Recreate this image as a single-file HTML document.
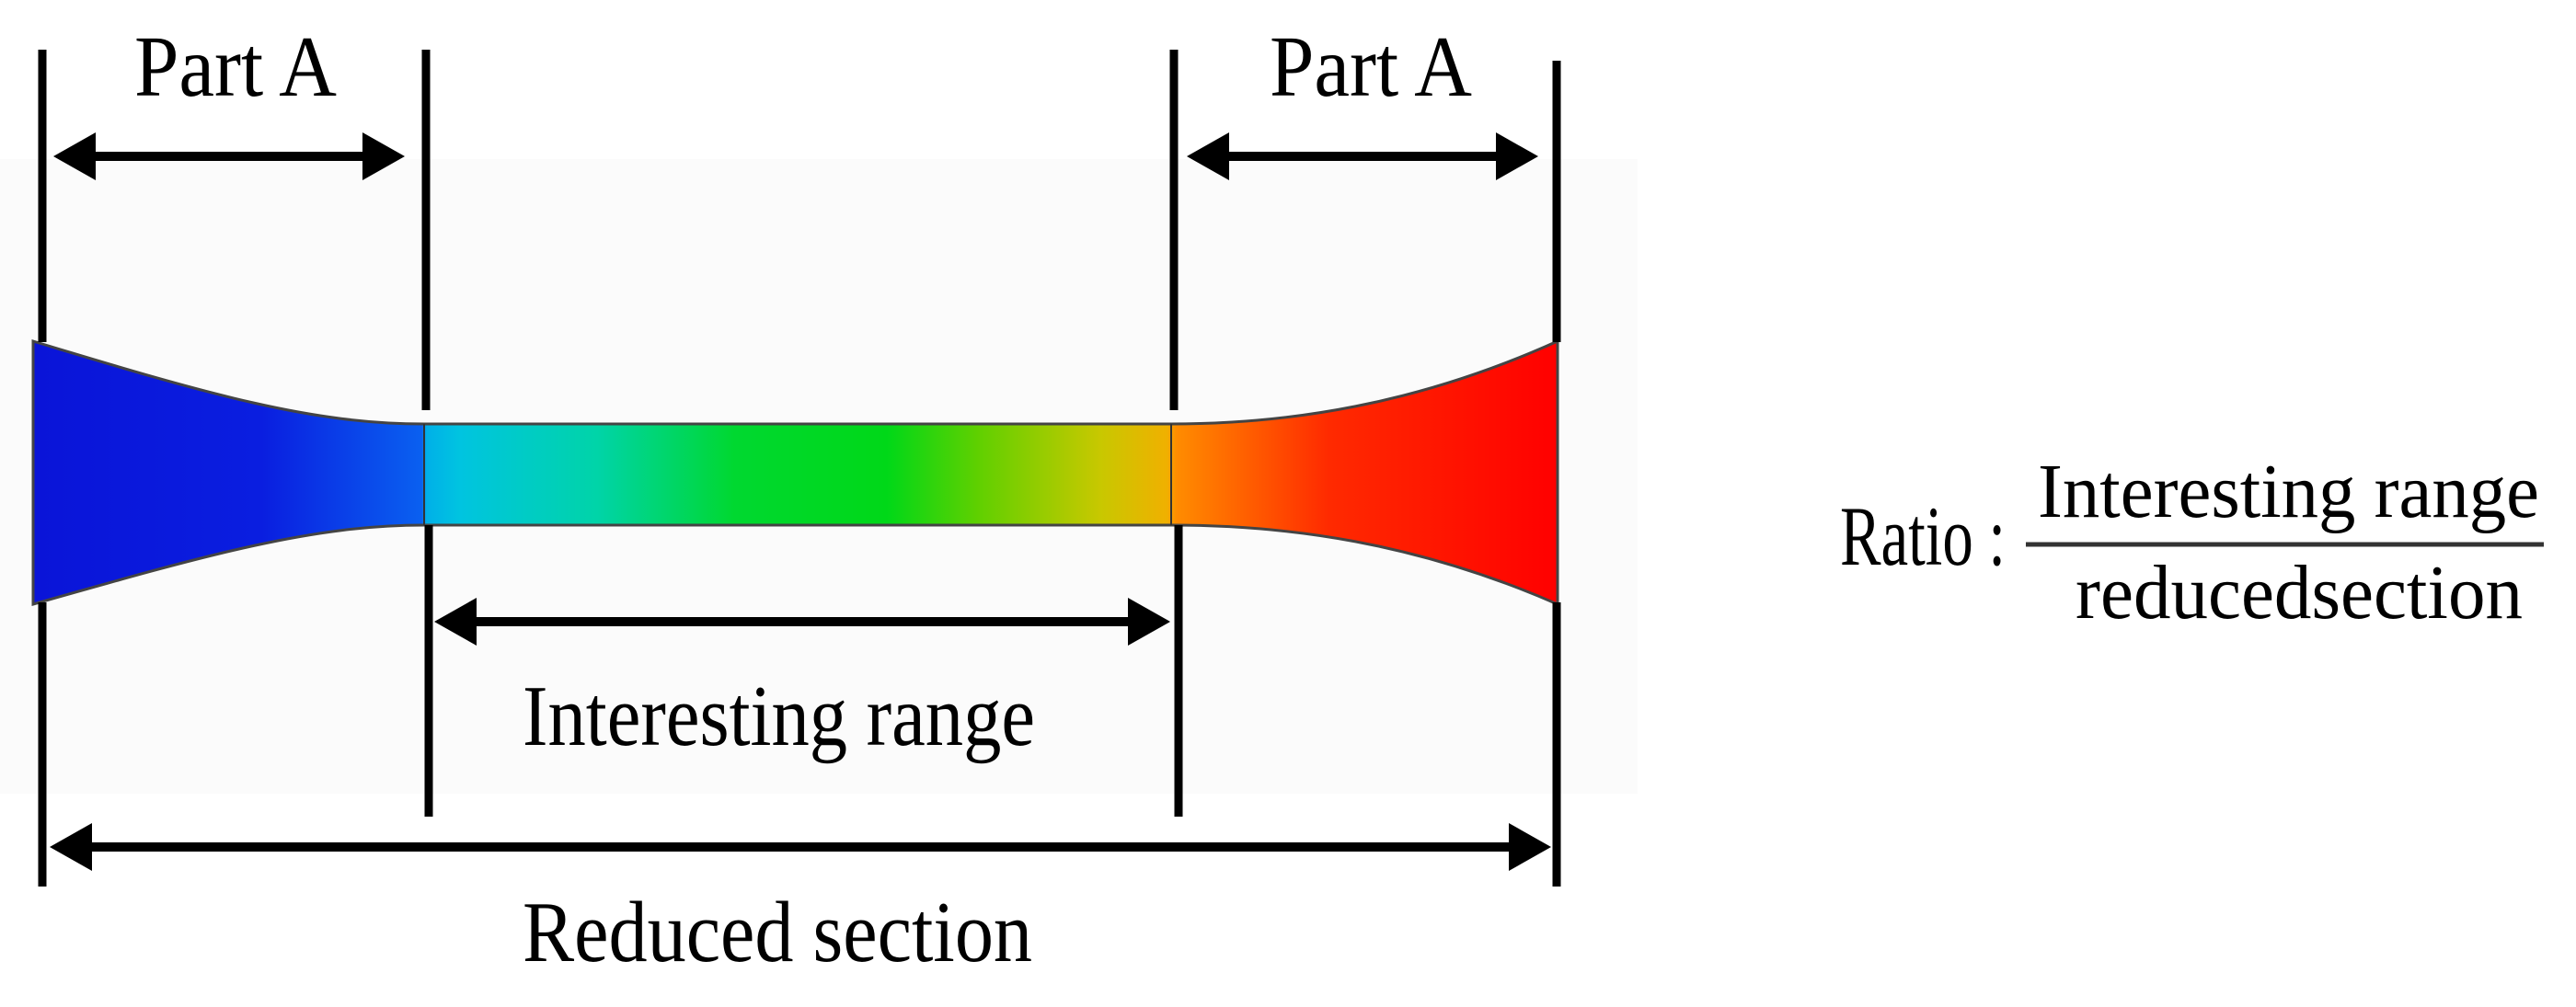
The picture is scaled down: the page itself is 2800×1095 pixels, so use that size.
<!DOCTYPE html>
<html><head><meta charset="utf-8"><style>
html,body{margin:0;padding:0;background:#fff;}
svg{display:block;}
text{font-family:"Liberation Serif",serif;fill:#000;}
</style></head><body>
<svg width="2800" height="1095" viewBox="0 0 2800 1095" xmlns="http://www.w3.org/2000/svg">
<defs>
<linearGradient id="g" x1="36" y1="0" x2="1693" y2="0" gradientUnits="userSpaceOnUse">
<stop offset="0" stop-color="#0a14d8"/>
<stop offset="0.15" stop-color="#0a1ee0"/>
<stop offset="0.255" stop-color="#0a60f0"/>
<stop offset="0.258" stop-color="#00b0e8"/>
<stop offset="0.28" stop-color="#00c4e0"/>
<stop offset="0.37" stop-color="#00d4a8"/>
<stop offset="0.46" stop-color="#00d830"/>
<stop offset="0.56" stop-color="#00d818"/>
<stop offset="0.62" stop-color="#60d000"/>
<stop offset="0.7" stop-color="#c8c800"/>
<stop offset="0.744" stop-color="#f0b000"/>
<stop offset="0.75" stop-color="#ff8c00"/>
<stop offset="0.85" stop-color="#ff2a00"/>
<stop offset="1" stop-color="#ff0000"/>
</linearGradient>
</defs>
<rect x="0" y="173" width="1780" height="690" fill="#fbfbfb"/>
<path d="M36,371 C230,430 340,461 461,461 L1273,461 C1400,461 1540,440 1693,371 L1693,657 C1540,590 1400,571 1273,571 L461,571 C340,571 230,602 36,657 Z" fill="url(#g)" stroke="#444" stroke-width="3"/>
<line x1="461" y1="461" x2="461" y2="571" stroke="#333" stroke-width="2"/>
<line x1="1273" y1="461" x2="1273" y2="571" stroke="#333" stroke-width="2"/>
<g stroke="#000" stroke-width="9">
<line x1="46" y1="54" x2="46" y2="372"/>
<line x1="46" y1="655" x2="46" y2="964"/>
<line x1="463" y1="54" x2="463" y2="446"/>
<line x1="466" y1="571" x2="466" y2="888"/>
<line x1="1276" y1="54" x2="1276" y2="446"/>
<line x1="1281" y1="571" x2="1281" y2="888"/>
<line x1="1692" y1="66" x2="1692" y2="372"/>
<line x1="1692" y1="655" x2="1692" y2="964"/>
</g>
<g stroke="#000" stroke-width="10">
<line x1="95" y1="170" x2="400" y2="170"/>
<line x1="1325" y1="170" x2="1632" y2="170"/>
<line x1="515" y1="676" x2="1228" y2="676"/>
<line x1="95" y1="921" x2="1640" y2="921"/>
</g>
<g fill="#000">
<polygon points="58,170 104,144 104,196"/>
<polygon points="440,170 394,144 394,196"/>
<polygon points="1290,170 1336,144 1336,196"/>
<polygon points="1672,170 1626,144 1626,196"/>
<polygon points="472,676 518,650 518,702"/>
<polygon points="1272,676 1226,650 1226,702"/>
<polygon points="54,921 100,895 100,947"/>
<polygon points="1686,921 1640,895 1640,947"/>
</g>
<text x="146" y="104" font-size="94" textLength="220" lengthAdjust="spacingAndGlyphs">Part A</text>
<text x="1380" y="104" font-size="94" textLength="220" lengthAdjust="spacingAndGlyphs">Part A</text>
<text x="568" y="810" font-size="94" textLength="557" lengthAdjust="spacingAndGlyphs">Interesting range</text>
<text x="568" y="1045" font-size="94" textLength="554" lengthAdjust="spacingAndGlyphs">Reduced section</text>
<text x="2000" y="614" font-size="92" textLength="180" lengthAdjust="spacingAndGlyphs">Ratio :</text>
<text x="2215" y="562" font-size="84" textLength="545" lengthAdjust="spacingAndGlyphs">Interesting range</text>
<line x1="2202" y1="592" x2="2765" y2="592" stroke="#333" stroke-width="5"/>
<text x="2256" y="672" font-size="84" textLength="486" lengthAdjust="spacingAndGlyphs">reducedsection</text>
</svg>
</body></html>
